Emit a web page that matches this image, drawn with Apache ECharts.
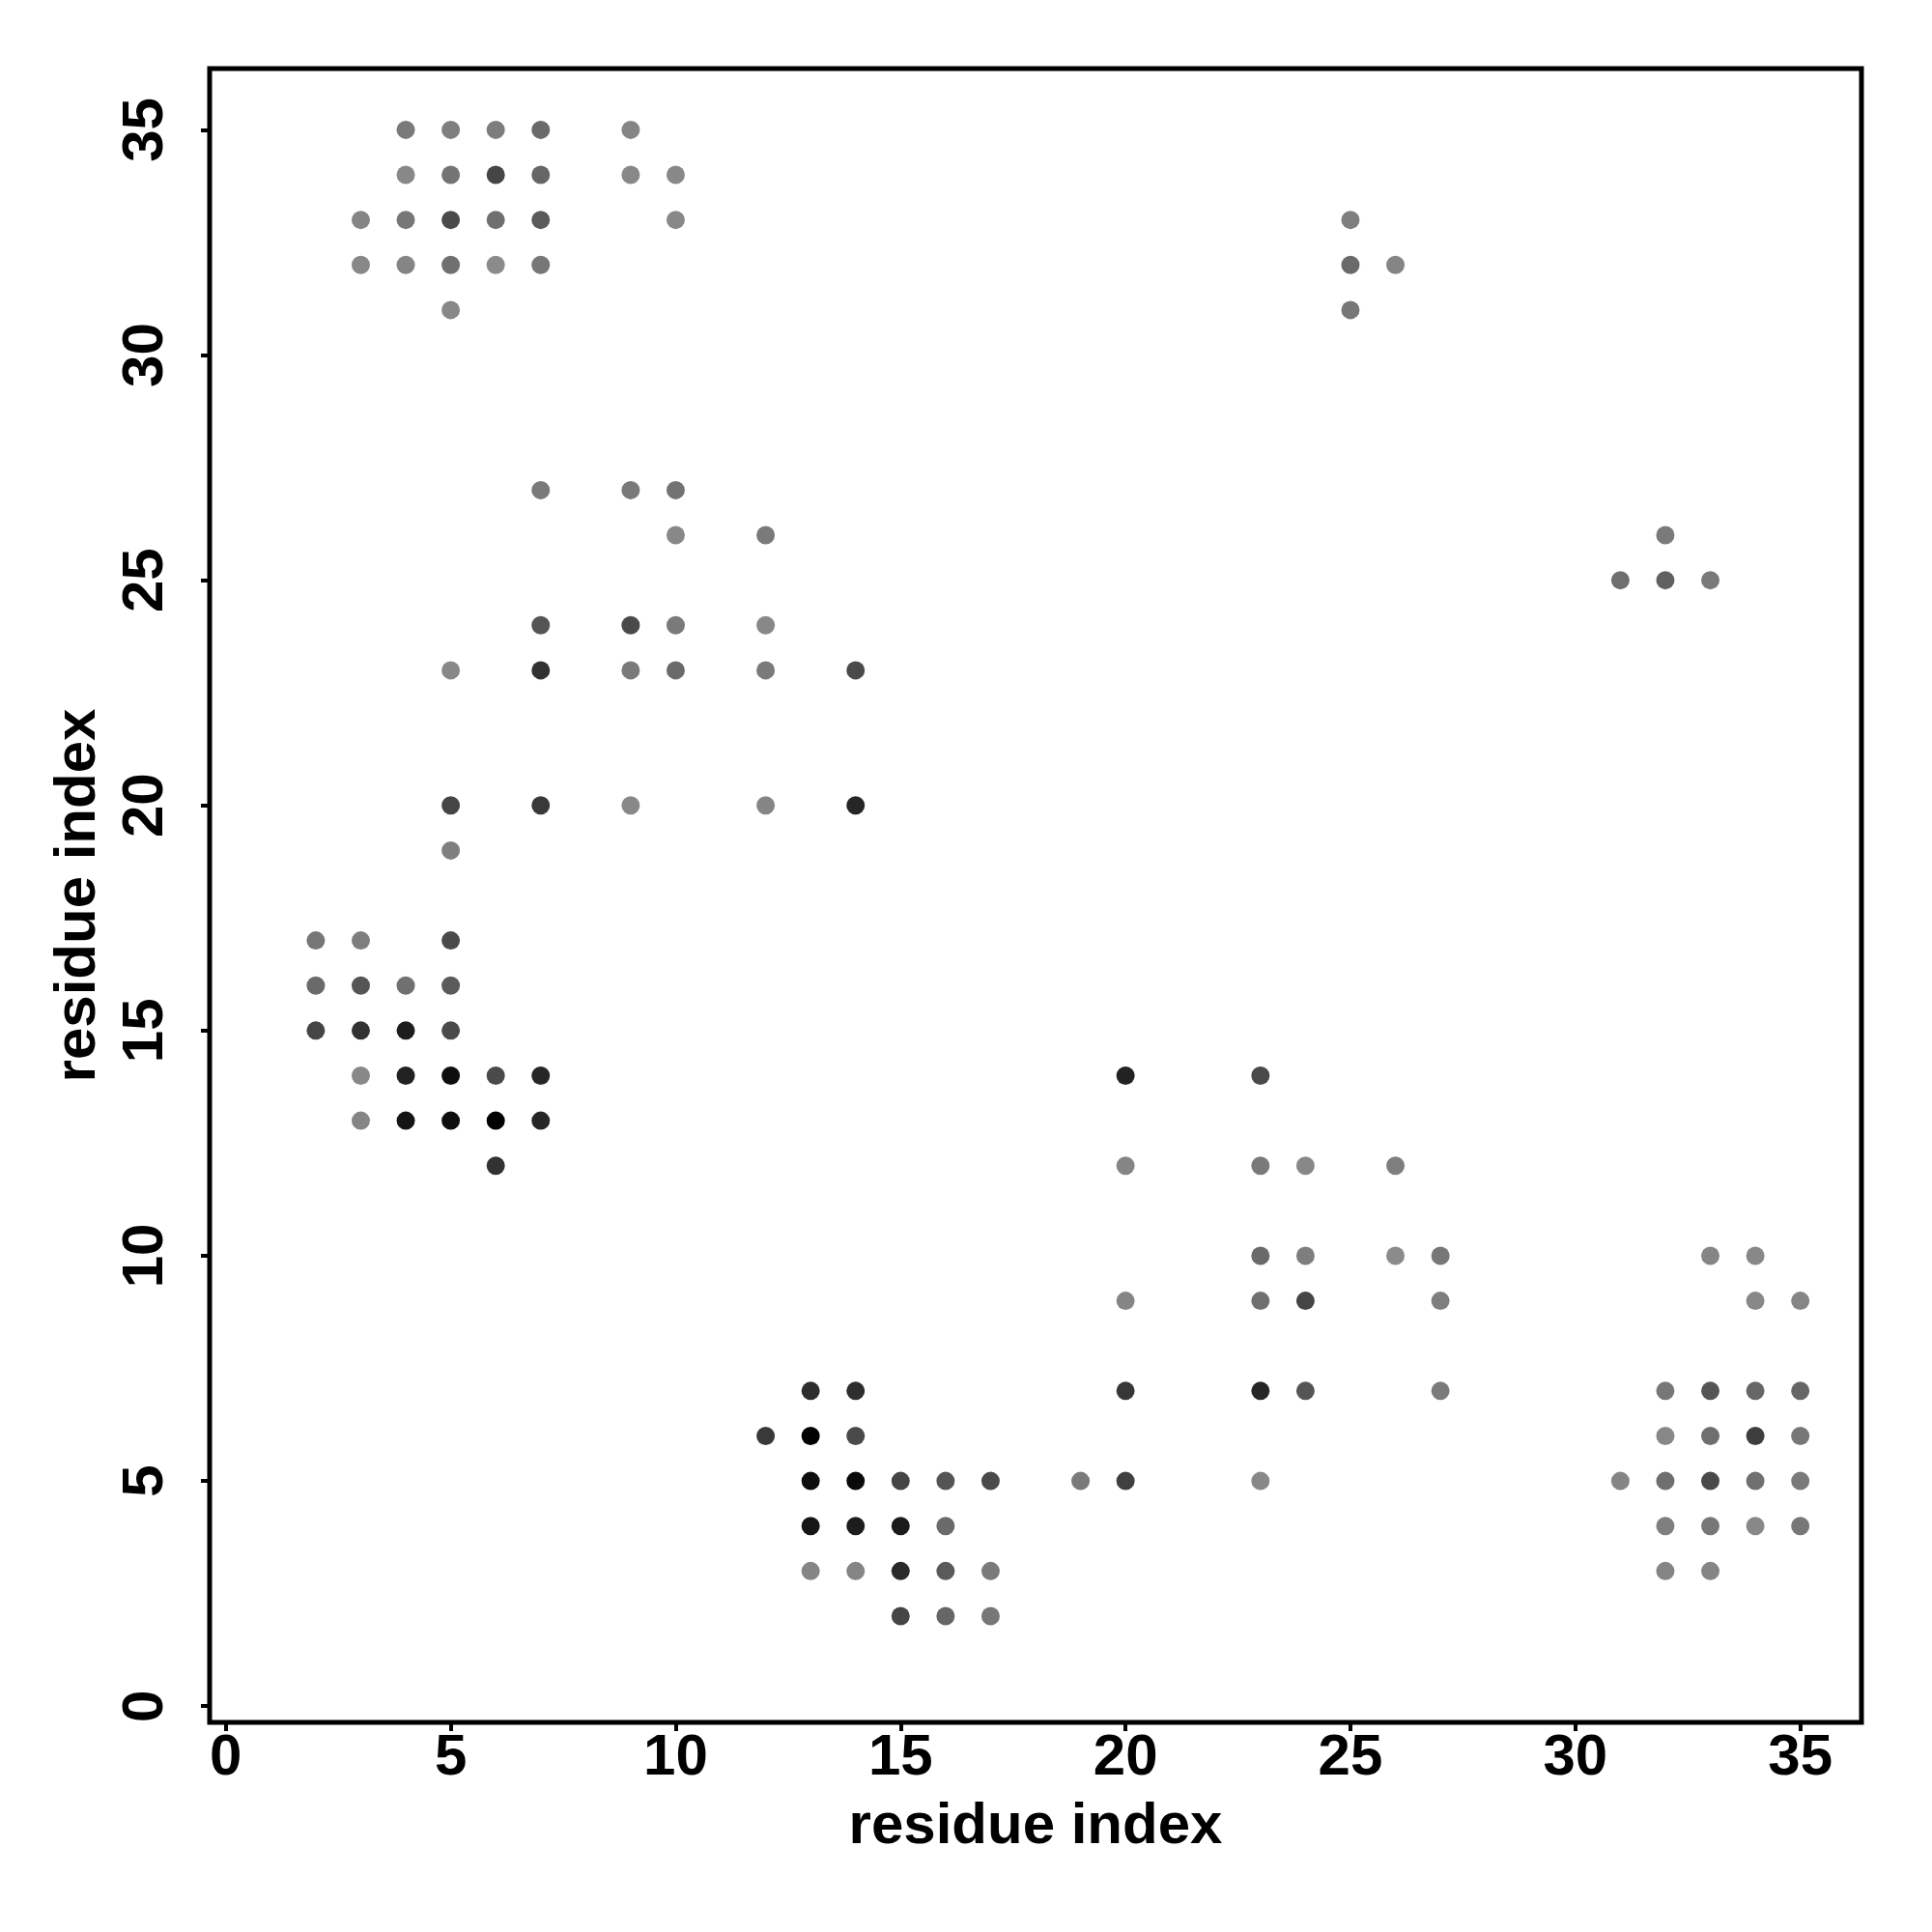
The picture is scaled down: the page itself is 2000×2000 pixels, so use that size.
<!DOCTYPE html>
<html>
<head>
<meta charset="utf-8">
<script src="https://cdn.jsdelivr.net/npm/echarts@6/dist/echarts.min.js"></script>
<style>
  html, body { margin: 0; padding: 0; background: #ffffff; }
  #chart { width: 2000px; height: 2000px; }
</style>
</head>
<body>
<div id="chart"></div>
<script>
// residue i (x), residue j (y), contact strength (0 = light gray, 1 = black)
const xIdx = [
  4,5,6,7,9,
  4,5,6,7,9,10,
  3,4,5,6,7,10,
  3,4,5,6,7,
  5,
  25,25,26,25,
  7,9,10,
  10,12,32,
  31,32,33,
  7,9,10,12,
  5,7,9,10,12,14,
  5,7,9,12,14,
  5,
  2,3,5,
  2,3,4,5,
  2,3,4,5,
  3,4,5,6,7,20,23,
  3,4,5,6,7,
  6,20,23,24,26,
  23,24,26,27,33,34,
  20,23,24,27,34,35,
  13,14,20,23,24,27,32,33,34,35,
  12,13,14,32,33,34,35,
  13,14,15,16,17,19,20,23,31,32,33,34,35,
  13,14,15,16,32,33,34,35,
  13,14,15,16,17,32,33,
  15,16,17
];
const yIdx = [
  35,35,35,35,35,
  34,34,34,34,34,34,
  33,33,33,33,33,33,
  32,32,32,32,32,
  31,
  33,32,32,31,
  27,27,27,
  26,26,26,
  25,25,25,
  24,24,24,24,
  23,23,23,23,23,23,
  20,20,20,20,20,
  19,
  17,17,17,
  16,16,16,16,
  15,15,15,15,
  14,14,14,14,14,14,14,
  13,13,13,13,13,
  12,12,12,12,12,
  10,10,10,10,10,10,
  9,9,9,9,9,9,
  7,7,7,7,7,7,7,7,7,7,
  6,6,6,6,6,6,6,
  5,5,5,5,5,5,5,5,5,5,5,5,5,
  4,4,4,4,4,4,4,4,
  3,3,3,3,3,3,3,
  2,2,2
];
const strength = [
  0.13,0.09,0.11,0.24,0.05,
  0.03,0.17,0.51,0.27,0.03,0.03,
  0.05,0.15,0.47,0.21,0.36,0.03,
  0.03,0.05,0.20,0.01,0.15,
  0.03,
  0.09,0.24,0.05,0.15,
  0.13,0.13,0.18,
  0.03,0.13,0.13,
  0.21,0.31,0.13,
  0.39,0.47,0.13,0.03,
  0.03,0.64,0.13,0.24,0.13,0.47,
  0.51,0.59,0.03,0.05,0.73,
  0.09,
  0.15,0.10,0.47,
  0.24,0.39,0.20,0.36,
  0.51,0.64,0.79,0.47,
  0.03,0.76,0.90,0.47,0.73,0.76,0.47,
  0.05,0.85,0.90,1.00,0.73,
  0.64,0.05,0.13,0.03,0.10,
  0.24,0.10,0.01,0.15,0.05,0.03,
  0.05,0.20,0.51,0.10,0.03,0.05,
  0.67,0.67,0.61,0.73,0.39,0.13,0.15,0.39,0.27,0.27,
  0.59,1.00,0.47,0.03,0.21,0.56,0.15,
  0.90,0.93,0.51,0.39,0.47,0.13,0.54,0.03,0.05,0.21,0.47,0.20,0.13,
  0.85,0.79,0.81,0.24,0.09,0.15,0.03,0.15,
  0.05,0.05,0.70,0.36,0.13,0.05,0.05,
  0.51,0.27,0.15
];
const tickValues = [0, 5, 10, 15, 20, 25, 30, 35];
const axisTitle = 'residue index';

const points = xIdx.map((x, i) => [x, yIdx[i], strength[i]]);

const FONT = '"Liberation Sans", Arial, Helvetica, sans-serif';

const chart = echarts.init(document.getElementById('chart'), null, { renderer: 'canvas' });

function axisCommon() {
  return {
    type: 'value',
    min: -0.36,
    max: 36.36,
    splitLine: { show: false },
    axisLine: { show: false, onZero: false },
    axisTick: {
      show: true,
      inside: false,
      length: 9,
      lineStyle: { color: '#000', width: 4 },
      customValues: tickValues
    },
    nameLocation: 'middle',
    name: axisTitle,
    nameTextStyle: {
      fontFamily: FONT, fontWeight: 'bold', fontSize: 60, color: '#000'
    }
  };
}

const xAxis = axisCommon();
xAxis.axisLabel = {
  customValues: tickValues,
  margin: 7,
  fontFamily: FONT, fontWeight: 'bold', fontSize: 60, color: '#000'
};
xAxis.nameGap = 78;

const yAxis = axisCommon();
yAxis.axisLabel = {
  customValues: tickValues,
  rotate: 90,
  margin: 36,
  fontFamily: FONT, fontWeight: 'bold', fontSize: 60, color: '#000'
};
yAxis.nameGap = 106;

chart.setOption({
  animation: false,
  backgroundColor: '#ffffff',
  grid: {
    left: 217, top: 71, right: 73, bottom: 217,
    show: true,
    borderColor: '#000',
    borderWidth: 5,
    backgroundColor: 'transparent'
  },
  xAxis: xAxis,
  yAxis: yAxis,
  visualMap: {
    show: false,
    type: 'continuous',
    dimension: 2,
    min: 0,
    max: 1,
    inRange: { color: ['#8c8c8c', '#000000'] }
  },
  series: [{
    type: 'scatter',
    data: points,
    symbol: 'circle',
    symbolSize: 19,
    itemStyle: { opacity: 1 }
  }]
});
</script>
</body>
</html>
